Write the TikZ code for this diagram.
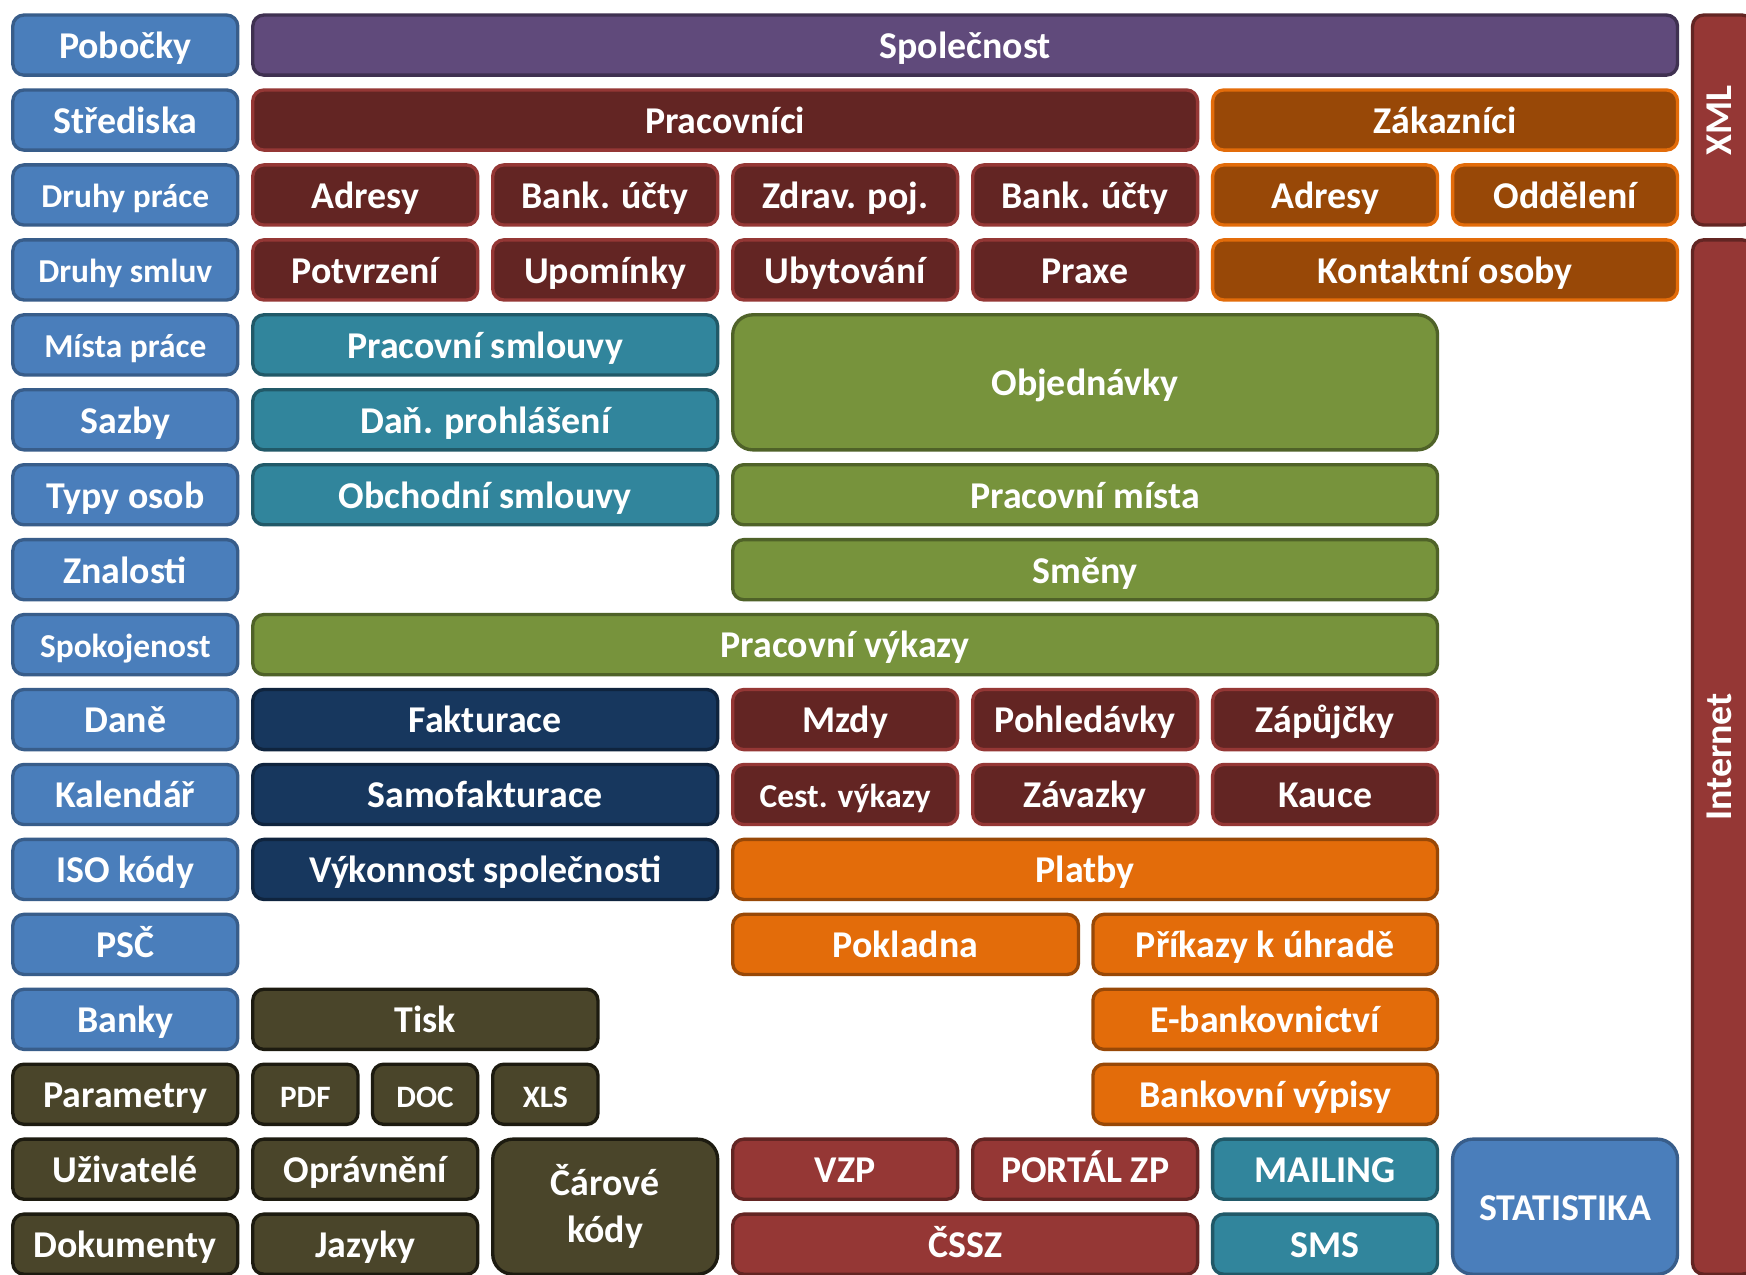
\documentclass[tikz,border=0pt]{standalone}
\usepackage{fontspec}
\setmainfont{Carlito}
\definecolor{cBlue}{HTML}{4A7EBB}
\definecolor{cBlueD}{HTML}{385D8A}
\definecolor{cPurple}{HTML}{604A7B}
\definecolor{cPurpleD}{HTML}{3F3151}
\definecolor{cDred}{HTML}{632523}
\definecolor{cDredB}{HTML}{953735}
\definecolor{cBrown}{HTML}{984807}
\definecolor{cBrownB}{HTML}{E36C0A}
\definecolor{cTeal}{HTML}{31859C}
\definecolor{cTealD}{HTML}{215968}
\definecolor{cGreen}{HTML}{77933C}
\definecolor{cGreenD}{HTML}{4F6228}
\definecolor{cNavy}{HTML}{17375E}
\definecolor{cNavyD}{HTML}{0F243E}
\definecolor{cOrange}{HTML}{E36C0A}
\definecolor{cOrangeD}{HTML}{984807}
\definecolor{cOlive}{HTML}{4A452A}
\definecolor{cOliveD}{HTML}{1D1B10}
\definecolor{cRed}{HTML}{953735}
\definecolor{cRedD}{HTML}{632523}
\newcommand\bx[7]{%
  \pgfmathsetmacro\bxya{12+67.3*#5}%
  \pgfmathsetmacro\bxyb{12+67.3*#6+57}%
  \node[box,minimum width={#4-#3-3},minimum height={\bxyb-\bxya-3},#2] (#1) at ({(#3+#4)/2},{(\bxya+\bxyb)/2}) {#7};%
}
\begin{document}
\begin{tikzpicture}[x=1pt,y=-1pt,
  box/.style={rectangle, rounded corners=10pt, line width=3pt, inner sep=0pt, outer sep=0pt,
    text=white, align=center, font=\bfseries\fontsize{34}{42}\selectfont,
    text height=27pt, text depth=3pt},
  small/.style={font=\bfseries\fontsize{30}{34}\selectfont, text height=24.5pt, text depth=1.5pt},
  tiny/.style={font=\bfseries\fontsize{28}{30}\selectfont, text height=23pt, text depth=0pt},
  vert/.style={rotate=90, text height=23.5pt, text depth=7.5pt},
  twoline/.style={text height=, text depth=},
  big/.style={rounded corners=18pt},
  blue/.style={fill=cBlue, draw=cBlueD},
  purple/.style={fill=cPurple, draw=cPurpleD},
  dred/.style={fill=cDred, draw=cDredB},
  brown/.style={fill=cBrown, draw=cBrownB},
  teal/.style={fill=cTeal, draw=cTealD},
  green/.style={fill=cGreen, draw=cGreenD},
  navy/.style={fill=cNavy, draw=cNavyD},
  orange/.style={fill=cOrange, draw=cOrangeD},
  olive/.style={fill=cOlive, draw=cOliveD},
  red/.style={fill=cRed, draw=cRedD}]
\fill[white] (0,0) rectangle (1568,1145);
\useasboundingbox (0,0) rectangle (1568,1145);
% left column
\bx{pob}{blue}{10}{215}{0}{0}{Pobočky}
\bx{str}{blue}{10}{215}{1}{1}{Střediska}
\bx{dpr}{blue,small}{10}{215}{2}{2}{Druhy práce}
\bx{dsm}{blue,small}{10}{215}{3}{3}{Druhy smluv}
\bx{mis}{blue,small}{10}{215}{4}{4}{Místa práce}
\bx{saz}{blue}{10}{215}{5}{5}{Sazby}
\bx{typ}{blue}{10}{215}{6}{6}{Typy osob}
\bx{zna}{blue}{10}{215}{7}{7}{Znalosti}
\bx{spo}{blue,small}{10}{215}{8}{8}{Spokojenost}
\bx{dan}{blue}{10}{215}{9}{9}{Daně}
\bx{kal}{blue}{10}{215}{10}{10}{Kalendář}
\bx{iso}{blue}{10}{215}{11}{11}{ISO kódy}
\bx{psc}{blue}{10}{215}{12}{12}{PSČ}
\bx{ban}{blue}{10}{215}{13}{13}{Banky}
\bx{par}{olive}{10}{215}{14}{14}{Parametry}
\bx{uzi}{olive}{10}{215}{15}{15}{Uživatelé}
\bx{dok}{olive}{10}{215}{16}{16}{Dokumenty}
% top rows
\bx{spol}{purple}{225.5}{1508}{0}{0}{Společnost}
\bx{prac}{dred}{225.5}{1077}{1}{1}{Pracovníci}
\bx{zak}{brown}{1087.5}{1508}{1}{1}{Zákazníci}
\bx{adr1}{dred}{225.5}{430.5}{2}{2}{Adresy}
\bx{buc1}{dred}{441}{646}{2}{2}{Bank. účty}
\bx{zdr}{dred}{656.5}{861.5}{2}{2}{Zdrav. poj.}
\bx{buc2}{dred}{872}{1077}{2}{2}{Bank. účty}
\bx{adr2}{brown}{1087.5}{1292.5}{2}{2}{Adresy}
\bx{odd}{brown}{1303}{1508}{2}{2}{Oddělení}
\bx{pot}{dred}{225.5}{430.5}{3}{3}{Potvrzení}
\bx{upo}{dred}{441}{646}{3}{3}{Upomínky}
\bx{uby}{dred}{656.5}{861.5}{3}{3}{Ubytování}
\bx{pra}{dred}{872}{1077}{3}{3}{Praxe}
\bx{kon}{brown}{1087.5}{1508}{3}{3}{Kontaktní osoby}
% right bars
\bx{xml}{red,vert,minimum width={\bxyb-\bxya-3},minimum height={1576-1518.5-3}}{1518.5}{1576}{0}{2}{XML}
\bx{inet}{red,vert,minimum width={\bxyb-\bxya-3},minimum height={1576-1518.5-3}}{1518.5}{1576}{3}{16}{Internet}
% middle
\bx{psm}{teal}{225.5}{646}{4}{4}{Pracovní smlouvy}
\bx{dpro}{teal}{225.5}{646}{5}{5}{Daň. prohlášení}
\bx{obs}{teal}{225.5}{646}{6}{6}{Obchodní smlouvy}
\bx{obj}{green,big}{656.5}{1292.5}{4}{5}{Objednávky}
\bx{pmi}{green}{656.5}{1292.5}{6}{6}{Pracovní místa}
\bx{sme}{green}{656.5}{1292.5}{7}{7}{Směny}
\bx{pvy}{green}{225.5}{1292.5}{8}{8}{Pracovní výkazy}
\bx{fak}{navy}{225.5}{646}{9}{9}{Fakturace}
\bx{sam}{navy}{225.5}{646}{10}{10}{Samofakturace}
\bx{vyk}{navy}{225.5}{646}{11}{11}{Výkonnost společnosti}
\bx{mzd}{dred}{656.5}{861.5}{9}{9}{Mzdy}
\bx{poh}{dred}{872}{1077}{9}{9}{Pohledávky}
\bx{zap}{dred}{1087.5}{1292.5}{9}{9}{Zápůjčky}
\bx{ces}{dred,small}{656.5}{861.5}{10}{10}{Cest. výkazy}
\bx{zav}{dred}{872}{1077}{10}{10}{Závazky}
\bx{kau}{dred}{1087.5}{1292.5}{10}{10}{Kauce}
\bx{pla}{orange}{656.5}{1292.5}{11}{11}{Platby}
\bx{pok}{orange}{656.5}{970}{12}{12}{Pokladna}
\bx{pri}{orange}{980}{1292.5}{12}{12}{Příkazy k úhradě}
\bx{tis}{olive}{225.5}{538.5}{13}{13}{Tisk}
\bx{eba}{orange}{980}{1292.5}{13}{13}{E-bankovnictví}
\bx{pdf}{olive,tiny}{225.5}{323}{14}{14}{PDF}
\bx{doc}{olive,tiny}{333}{430.5}{14}{14}{DOC}
\bx{xls}{olive,tiny}{441}{538.5}{14}{14}{XLS}
\bx{bvy}{orange}{980}{1292.5}{14}{14}{Bankovní výpisy}
\bx{opr}{olive}{225.5}{430.5}{15}{15}{Oprávnění}
\bx{jaz}{olive}{225.5}{430.5}{16}{16}{Jazyky}
\bx{car}{olive,big,twoline}{441}{646}{15}{16}{Čárové\\kódy}
\bx{vzp}{red}{656.5}{861.5}{15}{15}{VZP}
\bx{por}{red}{872}{1077}{15}{15}{PORTÁL ZP}
\bx{cssz}{red}{656.5}{1077}{16}{16}{ČSSZ}
\bx{mai}{teal}{1087.5}{1292.5}{15}{15}{MAILING}
\bx{sms}{teal}{1087.5}{1292.5}{16}{16}{SMS}
\bx{stat}{blue,big}{1303}{1508}{15}{16}{STATISTIKA}
\end{tikzpicture}
\end{document}
